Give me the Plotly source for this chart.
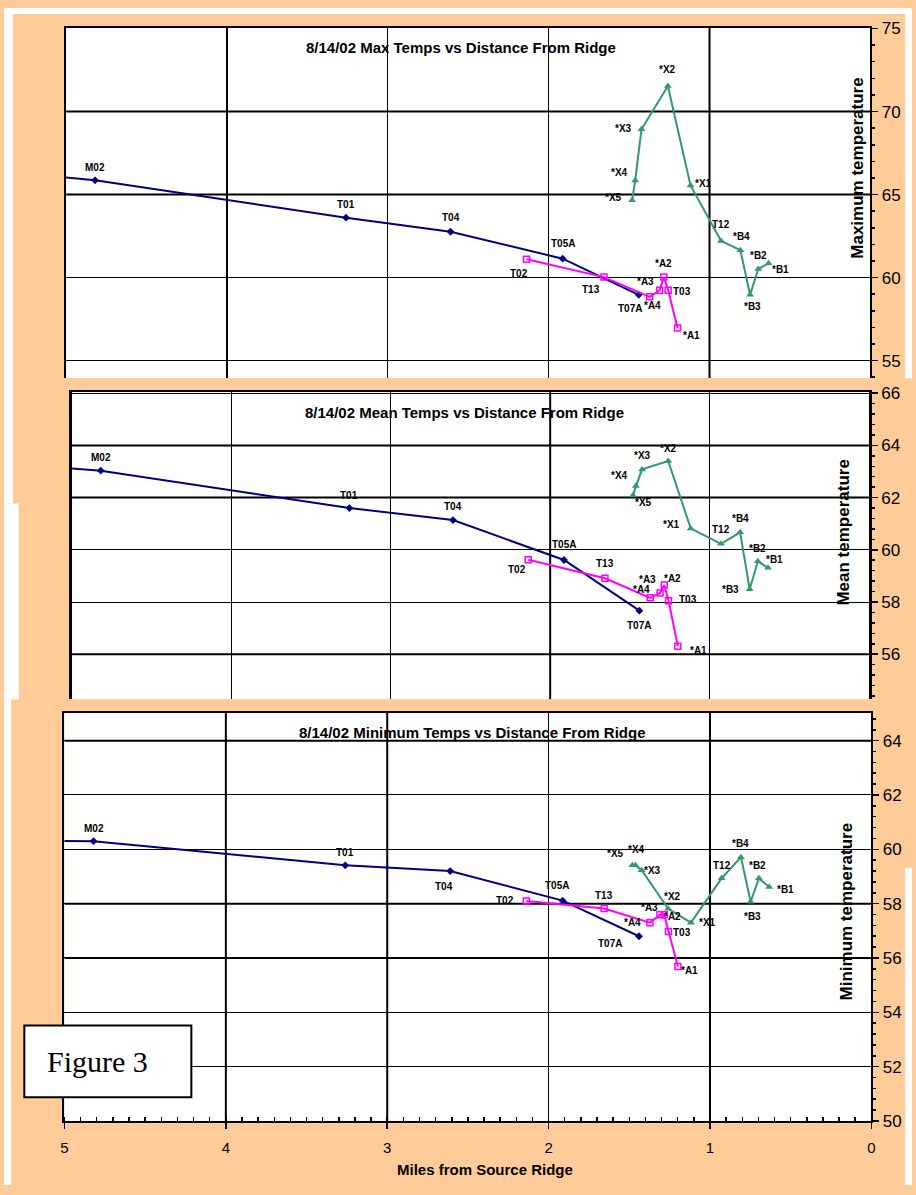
import plotly.graph_objects as go

# ---------------- data ----------------
# distances (miles from source ridge)
dist_blue = [5.3, 4.82, 3.26, 2.61, 1.913, 1.44]
labels_blue = ["", "M02", "T01", "T04", "T05A", "T07A"]
max_blue = [66.3, 65.86, 63.61, 62.76, 61.14, 58.96]
mean_blue = [63.25, 63.03, 61.60, 61.14, 59.61, 57.67]
min_blue = [60.32, 60.30, 59.41, 59.20, 58.11, 56.80]

dist_mag = [2.138, 1.656, 1.372, 1.31, 1.284, 1.257, 1.199]
labels_mag = ["T02", "T13", "*A4", "*A3", "*A2", "T03", "*A1"]
max_mag = [61.10, 60.03, 58.84, 59.24, 60.03, 59.24, 56.96]
mean_mag = [59.62, 58.91, 58.16, 58.35, 58.65, 58.05, 56.31]
min_mag = [58.10, 57.82, 57.30, 57.59, 57.59, 56.97, 55.69]

dist_grn = [1.481, 1.462, 1.423, 1.259, 1.118, 0.928, 0.808, 0.748, 0.697, 0.633]
labels_grn = ["*X5", "*X4", "*X3", "*X2", "*X1", "T12", "*B4", "*B3", "*B2", "*B1"]
max_grn = [64.66, 65.85, 68.93, 71.54, 65.55, 62.21, 61.65, 58.96, 60.52, 60.86]
mean_grn = [62.08, 62.44, 63.08, 63.40, 60.82, 60.23, 60.67, 58.49, 59.56, 59.31]
min_grn = [59.41, 59.41, 59.23, 57.81, 57.30, 58.93, 59.71, 58.07, 58.93, 58.61]

x_ticks = [5, 4, 3, 2, 1, 0]

titles = ["8/14/02 Max Temps vs Distance From Ridge",
          "8/14/02 Mean Temps vs Distance From Ridge",
          "8/14/02 Minimum Temps vs Distance From Ridge"]
y_titles = ["Maximum temperature", "Mean temperature", "Minimum temperature"]
x_title = "Miles from Source Ridge"

# ---------------- styling ----------------
W, H = 916, 1195
PEACH = "#FFCC99"
NAVY = "#000080"
MAGENTA = "#FF00FF"
GREEN = "#339966"
SANS = "Liberation Sans, Arial, sans-serif"
SERIF = "Liberation Serif, Times New Roman, serif"


def px(x):
    return x / W


def py(y):
    return 1 - y / H


# label offsets in pixels (dx right, dy down)
OFF1 = {"M02": (0, -13), "T01": (0, -13), "T04": (0, -14), "T05A": (0, -15), "T07A": (-9, 14),
        "T02": (-7, 14), "T13": (-13, 12), "*A4": (3, 9), "*A3": (-14, -9), "*A2": (0, -14),
        "T03": (14, 1), "*A1": (14, 7), "*X5": (-19, -3), "*X4": (-16, -8), "*X3": (-18, -1),
        "*X2": (0, -16), "*X1": (13, -2), "T12": (0, -16), "*B4": (1, -14), "*B3": (2, 12),
        "*B2": (0, -13), "*B1": (12, 6)}
OFF2 = {"M02": (0, -13), "T01": (0, -13), "T04": (0, -14), "T05A": (0, -15), "T07A": (0, 15),
        "T02": (-11, 10), "T13": (0, -15), "*A4": (-9, -8), "*A3": (-13, -13), "*A2": (8, -7),
        "T03": (19, -1), "*A1": (21, 4), "*X5": (11, 7), "*X4": (-16, -11), "*X3": (0, -14),
        "*X2": (0, -13), "*X1": (-19, -4), "T12": (0, -14), "*B4": (0, -14), "*B3": (-19, 0),
        "*B2": (0, -13), "*B1": (6, -8)}
OFF3 = {"M02": (0, -13), "T01": (0, -13), "T04": (-6, 15), "T05A": (-6, -15), "T07A": (-29, 7),
        "T02": (-21, 0), "T13": (0, -13), "*A4": (-17, 0), "*A3": (-10, -7), "*A2": (8, 2),
        "T03": (13, 1), "*A1": (12, 4), "*X5": (-17, -12), "*X4": (1, -16), "*X3": (11, 0),
        "*X2": (4, -12), "*X1": (17, 0), "T12": (0, -13), "*B4": (0, -14), "*B3": (2, 15),
        "*B2": (-1, -13), "*B1": (16, 2)}

panels = [
    dict(vals=(max_blue, max_mag, max_grn), xdom=(62.7, 874), ydom=(20, 375.7),
         yrange=(53.95, 75.05), dtick=5, minor=1, tcenter=(461, 40), ytc=(860.7, 163),
         off=OFF1, thick_h=[70, 65], thick_v=[4, 1], ylw=2),
    dict(vals=(mean_blue, mean_mag, mean_grn), xdom=(68.7, 872.5), ydom=(390, 701.7),
         yrange=(54.28, 66.04), dtick=2, minor=0.4, tcenter=(465, 411), ytc=(847, 533),
         off=OFF2, thick_h=[64, 62, 56], thick_v=[2], ylw=3),
    dict(vals=(min_blue, min_mag, min_grn), xdom=(61, 875), ydom=(715.7, 1130),
         yrange=(50, 65.02), dtick=2, minor=0.4, tcenter=(473, 736), ytc=(849.7, 917),
         off=OFF3, thick_h=[64, 58, 56], thick_v=[4, 3, 1], ylw=2),
]

fig = go.Figure()
annotations = []
shapes = []

for i, p in enumerate(panels):
    n = "" if i == 0 else str(i + 1)
    xa, ya = "x" + n, "y" + n
    vb, vm, vg = p["vals"]
    series = [
        (dist_blue, vb, labels_blue, NAVY, dict(symbol="diamond", size=6, color=NAVY)),
        (dist_mag, vm, labels_mag, MAGENTA,
         dict(symbol="square-open", size=6, color=MAGENTA, line=dict(width=1.5, color=MAGENTA))),
        (dist_grn, vg, labels_grn, GREEN, dict(symbol="triangle-up", size=7, color=GREEN)),
    ]
    for xs, ys, labs, col, mk in series:
        fig.add_trace(go.Scatter(x=xs, y=ys, mode="lines+markers", xaxis=xa, yaxis=ya,
                                 line=dict(color=col, width=2), marker=mk,
                                 showlegend=False, hoverinfo="skip"))
        for lab, xv, yv in zip(labs, xs, ys):
            if not lab:
                continue
            dx, dy = p["off"].get(lab, (0, -13))
            annotations.append(dict(x=xv, y=yv, xref=xa, yref=ya, text=lab, showarrow=False,
                                    xshift=dx, yshift=-dy, xanchor="center", yanchor="middle",
                                    font=dict(family=SANS, size=10, color="black", weight="bold")))

    # axes
    xaxis = dict(domain=[px(p["xdom"][0]), px(p["xdom"][1])], anchor=ya, range=[5, 0],
                 tickvals=x_ticks, showgrid=True, gridcolor="black", gridwidth=1,
                 showline=True, linecolor="black", linewidth=2, zeroline=False)
    if i < 2:
        xaxis.update(side="top", ticks="", showticklabels=False, mirror=False)
    else:
        xaxis.update(side="bottom", mirror=True, ticks="outside", ticklen=6, tickwidth=1.5,
                     tickcolor="black", ticktext=[str(t) for t in x_ticks],
                     tickfont=dict(family=SANS, size=15, color="black"),
                     ticklabelstandoff=6,
                     minor=dict(dtick=0.1, tick0=0, ticks="inside", ticklen=4, tickwidth=1.5,
                                tickcolor="black", showgrid=False))
    yaxis = dict(domain=[py(p["ydom"][1]), py(p["ydom"][0])], anchor=xa, side="right",
                 range=list(p["yrange"]), dtick=p["dtick"], tick0=0, showgrid=True,
                 gridcolor="black", gridwidth=1, showline=True, mirror=True,
                 linecolor="black", linewidth=p["ylw"], zeroline=False,
                 ticks="outside", ticklen=6, tickwidth=1.5, tickcolor="black",
                 tickfont=dict(family=SANS, size=17, color="black"),
                 minor=dict(dtick=p["minor"], tick0=0, ticks="outside", ticklen=3,
                            tickwidth=1.5, tickcolor="black", showgrid=False))
    fig.update_layout(**{"xaxis" + n: xaxis, "yaxis" + n: yaxis})

    # thicker grid lines (as in the scanned chart)
    for v in p["thick_h"]:
        shapes.append(dict(type="line", xref=xa, yref=ya, x0=5, x1=0, y0=v, y1=v,
                           line=dict(color="black", width=2), layer="below"))
    for v in p["thick_v"]:
        shapes.append(dict(type="line", xref=xa, yref=ya, x0=v, x1=v,
                           y0=p["yrange"][0], y1=p["yrange"][1],
                           line=dict(color="black", width=2), layer="below"))

    # titles
    annotations.append(dict(x=px(p["tcenter"][0]), y=py(p["tcenter"][1]), xref="paper",
                            yref="paper", text=titles[i], showarrow=False, xanchor="center",
                            yanchor="middle",
                            font=dict(family=SANS, size=15, color="black", weight="bold")))
    annotations.append(dict(x=px(p["ytc"][0]), y=py(p["ytc"][1]), xref="paper", yref="paper",
                            text=y_titles[i], showarrow=False, textangle=-90,
                            xanchor="center", yanchor="middle",
                            font=dict(family=SANS, size=17, color="black", weight="bold")))

annotations.append(dict(x=px(485), y=py(1179), xref="paper", yref="paper", text=x_title,
                        showarrow=False, xanchor="center", yanchor="middle",
                        font=dict(family=SANS, size=15, color="black", weight="bold")))

# "Figure 3" box
shapes.append(dict(type="rect", xref="paper", yref="paper", x0=px(20.5), x1=px(189),
                   y0=py(1106), y1=py(1033), fillcolor="white",
                   line=dict(color="black", width=2), layer="above"))
annotations.append(dict(x=px(94), y=py(1070), xref="paper", yref="paper", text="Figure 3",
                        showarrow=False, xanchor="center", yanchor="middle",
                        font=dict(family=SERIF, size=30, color="black")))

# white margins around the pasted peach chart images
for (x0, y0, x1, y1) in [(0, 0, 916, 6), (0, 6, 9, 503), (0, 503, 15, 702), (0, 702, 7, 1195),
                         (909, 6, 916, 376), (909, 873, 916, 1195)]:
    shapes.append(dict(type="rect", xref="paper", yref="paper", x0=px(x0), x1=px(x1),
                       y0=py(y1), y1=py(y0), fillcolor="white", line=dict(width=0),
                       layer="above"))

fig.update_layout(width=W, height=H, margin=dict(l=0, r=0, t=0, b=0),
                  paper_bgcolor=PEACH, plot_bgcolor="white",
                  annotations=annotations, shapes=shapes, showlegend=False)

fig.write_html("out.html",
               config={"displayModeBar": False, "staticPlot": True},
               post_script="document.documentElement.style.margin='0';"
                           "document.documentElement.style.padding='0';"
                           "document.body.style.margin='0';"
                           "document.body.style.padding='0';"
                           "document.body.style.overflow='hidden';")
